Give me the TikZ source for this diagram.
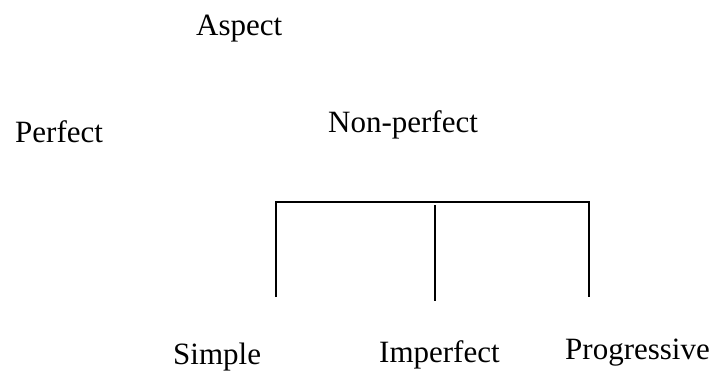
\documentclass[tikz,border=0pt]{standalone}
\usepackage{fontspec}
\setmainfont{Liberation Serif}
\begin{document}
\begin{tikzpicture}[x=1pt,y=-1pt,
  label/.style={anchor=base west,inner sep=0pt,font=\fontsize{31}{37}\selectfont},
  bracket/.style={line width=2pt,line cap=butt}]
\useasboundingbox (0,0) rectangle (721,372);
% labels
\node[label] (aspect) at (196,35) {Aspect};
\node[label] (perfect) at (15,142) {Perfect};
\node[label] (nonperf) at (328,132) {Non-perfect};
\node[label] (simple) at (173,364) {Simple};
\node[label] (imperf) at (379,362) {Imperfect};
\node[label] (progr) at (565,359) {Progressive};
% bracket under Non-perfect
\coordinate (bl) at (276,297);
\coordinate (tl) at (276,202);
\coordinate (tr) at (589,202);
\coordinate (br) at (589,297);
\coordinate (mt) at (435,205);
\coordinate (mb) at (435,301);
\draw[bracket] (bl) -- (tl) -- (tr) -- (br);
\draw[bracket] (mt) -- (mb);
\end{tikzpicture}
\end{document}
